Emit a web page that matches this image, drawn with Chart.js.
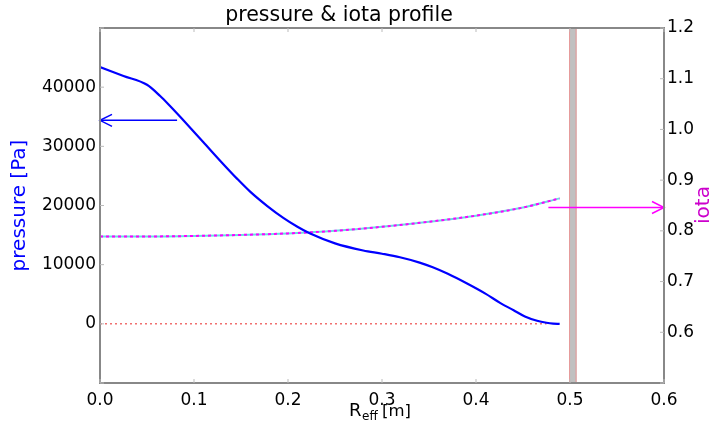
<!DOCTYPE html>
<html>
<head>
<meta charset="utf-8">
<script src="https://cdn.jsdelivr.net/npm/chart.js@4/dist/chart.umd.min.js"></script>
<style>
  body { margin: 0; background: #fff; }
  #wrap { width: 712px; height: 434px; }
</style>
</head>
<body>
<div id="wrap"><canvas id="profileChart" width="712" height="434"></canvas></div>
<script>
// R_eff [m] and profiles
const rPressure = [0, 0.025, 0.05, 0.064, 0.074, 0.087, 0.11, 0.13, 0.146, 0.16, 0.178, 0.195, 0.21, 0.223, 0.25, 0.28, 0.3, 0.319, 0.34, 0.354, 0.37, 0.39, 0.41, 0.426, 0.44, 0.452, 0.465, 0.475, 0.482, 0.489];
const pressure = [43400, 41900, 40400, 38500, 36900, 34700, 30700, 27200, 24500, 22300, 19900, 17900, 16400, 15300, 13600, 12400, 11850, 11250, 10350, 9550, 8450, 6850, 5100, 3500, 2300, 1250, 520, 180, 40, 0];

const rIota = [0, 0.05, 0.1, 0.15, 0.2, 0.25, 0.3, 0.35, 0.4, 0.45, 0.489];
const iota = [0.789, 0.789, 0.790, 0.792, 0.795, 0.800, 0.808, 0.818, 0.830, 0.846, 0.864];

const zeroLineR = [0, 0.475];
const zeroLineP = [0, 0];

// grey band near the boundary
const bandR = [0.499, 0.507];

// arrows pointing to each axis
const pArrowR = [0.082, 0.0];
const pArrowP = 34400;
const iArrowR = [0.477, 0.6];
const iArrowIota = 0.846;

const xTickLabels = ["0.0", "0.1", "0.2", "0.3", "0.4", "0.5", "0.6"];
const pressureTicks = [0, 10000, 20000, 30000, 40000];
const iotaTickLabels = ["0.6", "0.7", "0.8", "0.9", "1.0", "1.1", "1.2"];

const toXY = (xs, ys) => xs.map((x, i) => ({ x, y: Array.isArray(ys) ? ys[i] : ys }));

function arrowHead(ctx, x, y, dir, color) {
  ctx.save();
  ctx.strokeStyle = color;
  ctx.lineWidth = 1.5;
  ctx.beginPath();
  ctx.moveTo(x - dir * 12, y - 6);
  ctx.lineTo(x, y);
  ctx.lineTo(x - dir * 12, y + 6);
  ctx.stroke();
  ctx.restore();
}

const decor = {
  id: "decor",
  beforeDatasetsDraw(chart) {
    const { ctx, chartArea: a, scales } = chart;
    const x0 = scales.x.getPixelForValue(bandR[0]);
    const x1 = scales.x.getPixelForValue(bandR[1]);
    ctx.save();
    ctx.fillStyle = "#c0c0c0";
    ctx.fillRect(x0, a.top, x1 - x0, a.bottom - a.top);
    ctx.strokeStyle = "#e89a9a";
    ctx.lineWidth = 1;
    ctx.beginPath();
    ctx.moveTo(x0 + 0.5, a.top); ctx.lineTo(x0 + 0.5, a.bottom);
    ctx.moveTo(x1 - 0.5, a.top); ctx.lineTo(x1 - 0.5, a.bottom);
    ctx.stroke();
    ctx.restore();
  },
  afterDatasetsDraw(chart) {
    const { ctx, scales } = chart;
    arrowHead(ctx, scales.x.getPixelForValue(pArrowR[1]), scales.y.getPixelForValue(pArrowP), -1, "#0000ff");
    arrowHead(ctx, scales.x.getPixelForValue(iArrowR[1]), scales.y1.getPixelForValue(iArrowIota), 1, "#ff00ff");
  },
  afterDraw(chart) {
    const { ctx, chartArea: a, scales } = chart;
    ctx.save();
    // frame
    ctx.strokeStyle = "#888";
    ctx.lineWidth = 2;
    ctx.strokeRect(a.left, a.top, a.right - a.left, a.bottom - a.top);
    // small inward ticks
    ctx.lineWidth = 1;
    ctx.strokeStyle = "#bbb";
    ctx.beginPath();
    scales.x.ticks.forEach((t) => {
      const px = scales.x.getPixelForValue(t.value);
      ctx.moveTo(px, a.bottom); ctx.lineTo(px, a.bottom - 4);
      ctx.moveTo(px, a.top); ctx.lineTo(px, a.top + 4);
    });
    scales.y.ticks.forEach((t) => {
      const py = scales.y.getPixelForValue(t.value);
      ctx.moveTo(a.left, py); ctx.lineTo(a.left + 4, py);
    });
    scales.y1.ticks.forEach((t) => {
      const py = scales.y1.getPixelForValue(t.value);
      ctx.moveTo(a.right, py); ctx.lineTo(a.right - 4, py);
    });
    ctx.stroke();

    // title
    ctx.fillStyle = "#000";
    ctx.font = "20.5px 'DejaVu Sans'";
    ctx.textAlign = "center";
    ctx.textBaseline = "alphabetic";
    ctx.fillText("pressure & iota profile", 339, 21);

    // x label with subscript
    ctx.textAlign = "left";
    ctx.font = "18px 'DejaVu Sans'";
    ctx.fillText("R", 349, 416);
    ctx.font = "12px 'DejaVu Sans'";
    ctx.fillText("eff", 362, 420);
    ctx.font = "16.5px 'DejaVu Sans'";
    ctx.fillText("[m]", 382, 416);

    // right axis label, reads bottom to top
    ctx.translate(704, 205);
    ctx.rotate(-Math.PI / 2);
    ctx.textAlign = "center";
    ctx.textBaseline = "middle";
    ctx.fillStyle = "#cc00cc";
    ctx.font = "20px 'DejaVu Sans'";
    ctx.fillText("iota", 0, 0);
    ctx.restore();
  }
};

new Chart(document.getElementById("profileChart"), {
  type: "scatter",
  data: {
    datasets: [
      {
        label: "pressure arrow",
        data: toXY(pArrowR, pArrowP),
        showLine: true,
        borderColor: "#0000ff",
        borderWidth: 1.5,
        yAxisID: "y",
        order: 0,
      },
      {
        label: "iota arrow",
        data: toXY(iArrowR, iArrowIota),
        showLine: true,
        borderColor: "#ff00ff",
        borderWidth: 1.5,
        yAxisID: "y1",
        order: 0,
      },
      {
        label: "pressure",
        data: toXY(rPressure, pressure),
        showLine: true,
        borderColor: "#0000ff",
        borderWidth: 2.2,
        cubicInterpolationMode: "monotone",
        yAxisID: "y",
        order: 1,
      },
      {
        label: "iota",
        data: toXY(rIota, iota),
        showLine: true,
        borderColor: "#ff00ff",
        borderWidth: 2,
        borderDash: [3, 3],
        cubicInterpolationMode: "monotone",
        yAxisID: "y1",
        order: 2,
      },
      {
        label: "iota base",
        data: toXY(rIota, iota),
        showLine: true,
        borderColor: "#66e0e0",
        borderWidth: 2,
        cubicInterpolationMode: "monotone",
        yAxisID: "y1",
        order: 3,
      },
      {
        label: "zero",
        data: toXY(zeroLineR, zeroLineP),
        showLine: true,
        borderColor: "#f07070",
        borderWidth: 1.5,
        borderDash: [2, 3],
        yAxisID: "y",
        order: 4,
      },
    ],
  },
  options: {
    responsive: false,
    animation: false,
    layout: { padding: { top: 28 } },
    elements: { point: { radius: 0, hoverRadius: 0 } },
    plugins: {
      legend: { display: false },
      tooltip: { enabled: false },
      title: { display: false },
    },
    scales: {
      x: {
        type: "linear",
        min: 0,
        max: 0.6,
        grid: { display: false, drawTicks: false },
        border: { display: false },
        ticks: {
          stepSize: 0.1,
          padding: 7,
          color: "#000",
          font: { family: "DejaVu Sans", size: 17 },
          maxRotation: 0,
          callback: (v) => xTickLabels[Math.round(v * 10)] ?? "",
        },
        afterFit: (s) => { s.height = 51; },
      },
      y: {
        position: "left",
        min: -10000,
        max: 50000,
        grid: { display: false, drawTicks: false },
        border: { display: false },
        ticks: {
          stepSize: 10000,
          padding: 4,
          color: "#000",
          font: { family: "DejaVu Sans", size: 17 },
          callback: (v) => (pressureTicks.includes(v) ? String(v) : ""),
        },
        title: {
          display: true,
          text: "pressure [Pa]",
          color: "#0000ff",
          font: { family: "DejaVu Sans", size: 20 },
          padding: { top: 8, bottom: 0 },
        },
        afterFit: (s) => { s.width = 100; },
      },
      y1: {
        position: "right",
        min: 0.5,
        max: 1.2,
        grid: { display: false, drawTicks: false },
        border: { display: false },
        ticks: {
          stepSize: 0.1,
          padding: 3,
          color: "#000",
          font: { family: "DejaVu Sans", size: 17 },
          callback: (v) => {
            const s = Number(v).toFixed(1);
            return iotaTickLabels.includes(s) ? s : "";
          },
        },
        afterFit: (s) => { s.width = 48; },
      },
    },
  },
  plugins: [decor],
});
</script>
</body>
</html>
